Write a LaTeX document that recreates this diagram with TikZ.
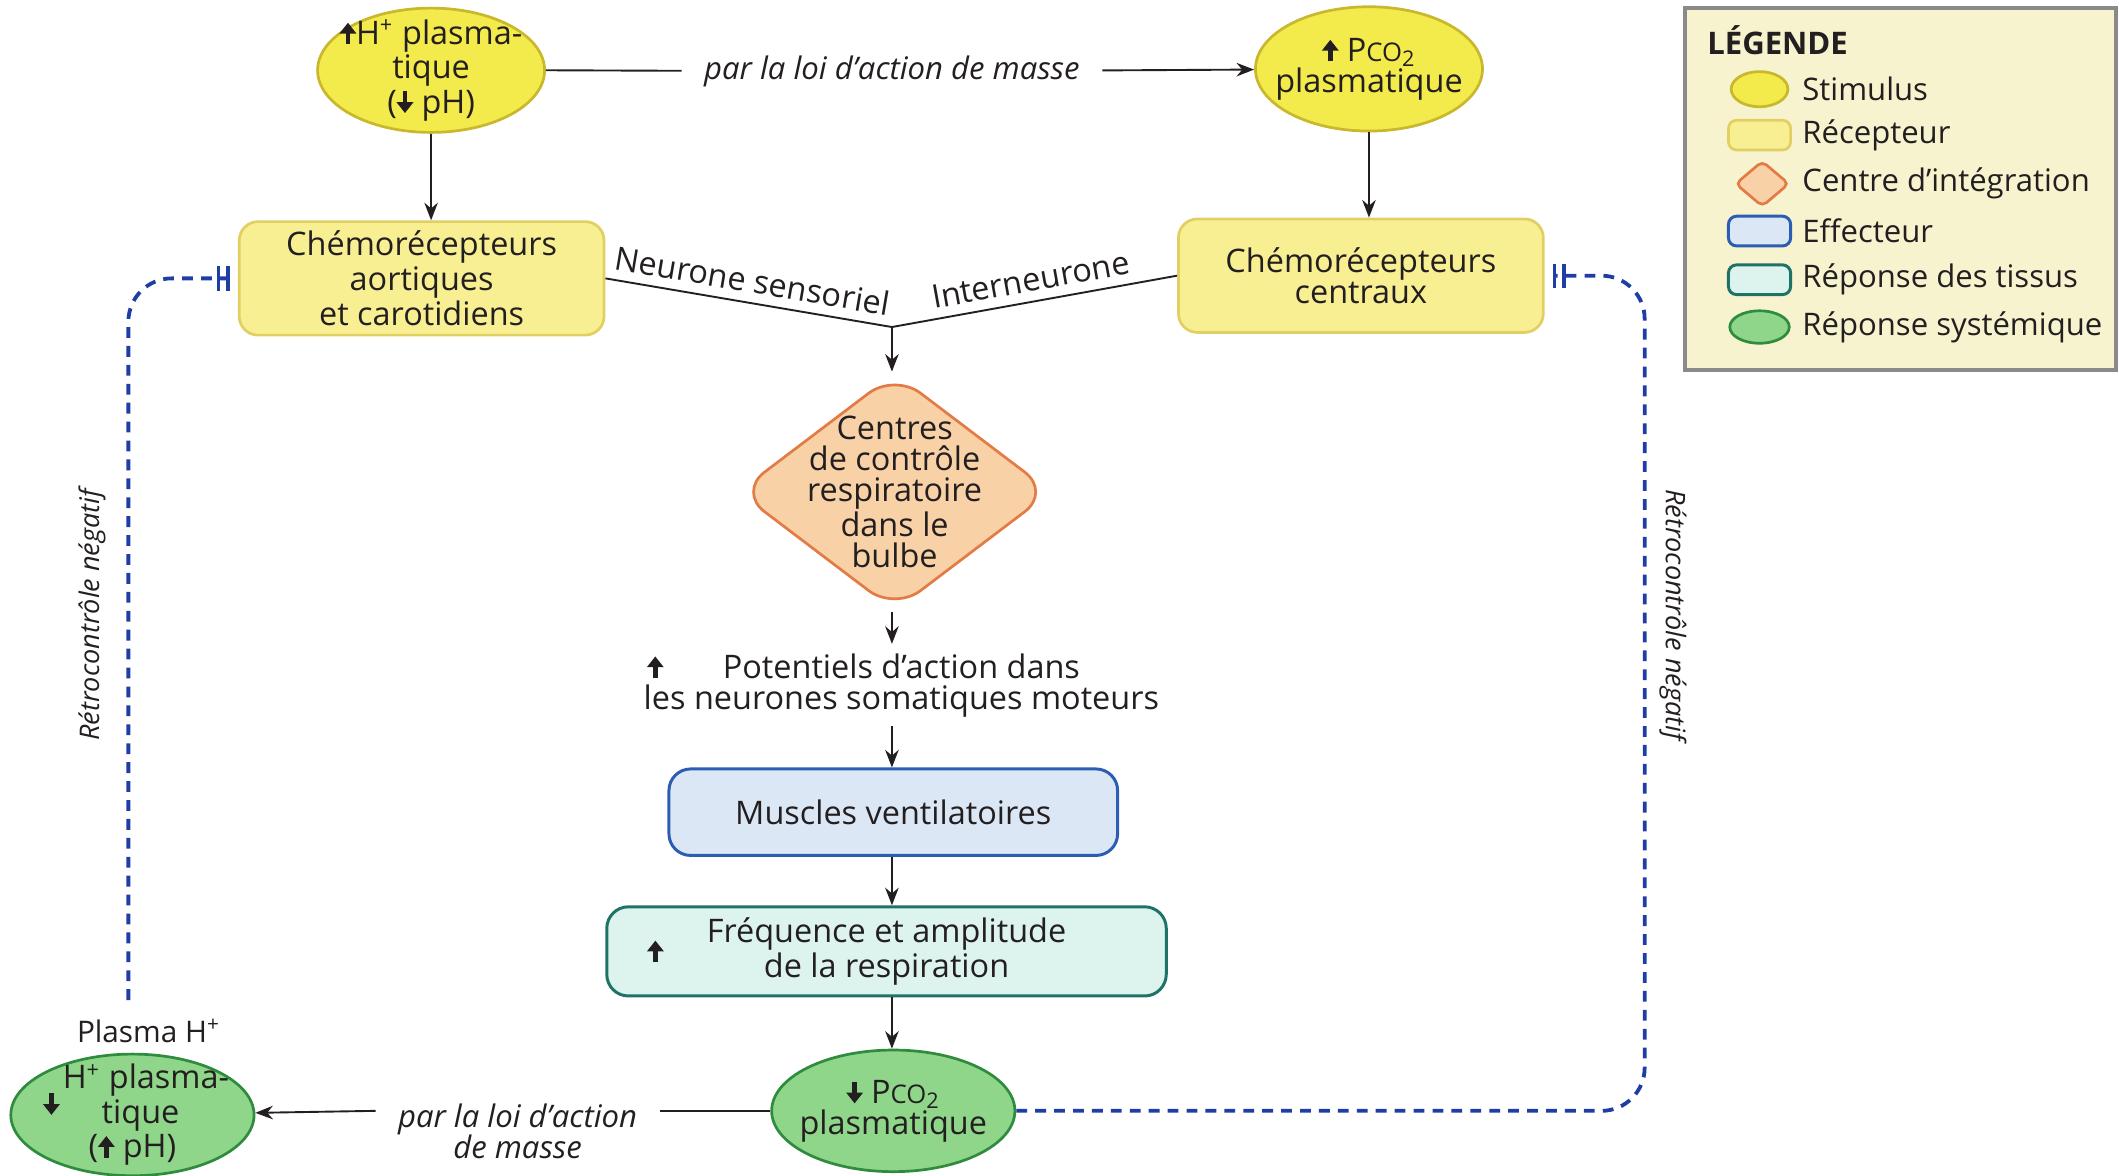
\documentclass[tikz,border=0pt]{standalone}
\usepackage{fontspec}
\setmainfont{Open Sans}
\usetikzlibrary{shapes.geometric,arrows.meta}

\definecolor{ink}{HTML}{231F20}
\definecolor{stimfill}{HTML}{F3EA4B}
\definecolor{stimline}{HTML}{C9B72C}
\definecolor{recfill}{HTML}{F8EF93}
\definecolor{recline}{HTML}{E2CF62}
\definecolor{centfill}{HTML}{F8D2A6}
\definecolor{centline}{HTML}{E27B45}
\definecolor{efffill}{HTML}{DCE7F5}
\definecolor{effline}{HTML}{2B5DB3}
\definecolor{tisfill}{HTML}{DDF3EE}
\definecolor{tisline}{HTML}{1E7366}
\definecolor{sysfill}{HTML}{8FD68B}
\definecolor{sysline}{HTML}{2F8B3E}
\definecolor{fbblue}{HTML}{1E3DA5}
\definecolor{legfill}{HTML}{F7F3CF}
\definecolor{legline}{HTML}{8A8A8A}

\newcommand{\uparr}{\tikz[baseline=0pt]\draw[ink,line width=1.7pt,-{Triangle[length=4pt,width=6pt]}] (0pt,0pt) -- (0pt,8pt);}
\newcommand{\dnarr}{\tikz[baseline=0pt]\draw[ink,line width=1.7pt,-{Triangle[length=4pt,width=6pt]}] (0pt,8pt) -- (0pt,0pt);}
\newcommand{\pco}{P{\fontsize{9.5}{9.5}\selectfont CO}\textsubscript{2}}

\tikzset{
  txt/.style={font=\fontsize{12}{11.5}\selectfont, text=ink, align=center},
  stimulus/.style={txt, ellipse, draw=stimline, fill=stimfill, line width=1pt,
    inner sep=-8pt, minimum width=84pt, minimum height=46pt},
  recepteur/.style={txt, rectangle, rounded corners=7pt, draw=recline, fill=recfill,
    line width=1pt, minimum width=135pt, minimum height=42pt},
  centre/.style={diamond, rounded corners=12pt, draw=centline, fill=centfill,
    line width=1pt, inner sep=0pt, minimum width=116pt, minimum height=88pt},
  effecteur/.style={txt, rectangle, rounded corners=8pt, draw=effline, fill=efffill,
    line width=1.1pt, minimum width=166pt, minimum height=32pt},
  tissus/.style={txt, rectangle, rounded corners=8pt, draw=tisline, fill=tisfill,
    line width=1.1pt, minimum width=207pt, minimum height=33pt},
  systemique/.style={txt, ellipse, draw=sysline, fill=sysfill, line width=1pt,
    inner sep=-8pt, minimum width=90pt, minimum height=45pt},
  loi/.style={font=\itshape\fontsize{11.5}{11.5}\selectfont, text=ink, align=center, inner xsep=8pt},
  retro/.style={font=\itshape\fontsize{10}{10}\selectfont, text=ink},
  feedback/.style={draw=fbblue, line width=1.4pt, dash pattern=on 4pt off 3pt,
    rounded corners=16pt, shorten >=3pt,
    -{Bar[width=9pt,line width=1.3pt,sep=2.2pt] Bar[width=9pt,line width=1.3pt]}},
  legtxt/.style={font=\fontsize{11.5}{11.5}\selectfont, text=ink, anchor=west, inner sep=0pt},
}

\begin{document}
\begin{tikzpicture}[x=0.5pt, y=-0.5pt, line width=0.7pt,
    >={Stealth[length=6.5pt,width=5pt]}]
  \useasboundingbox (0,0) rectangle (1568,870);

  % stimulus and receptors
  \node[stimulus] (hplus) at (319,52) {\uparr H\textsuperscript{+} plasma-\\tique\\(\dnarr\ pH)};
  \node[stimulus] (pcoup) at (1013,51) {\uparr\ \pco\\plasmatique};
  \node[loi] (masseup) at (660,53) {par la loi d'action de masse};
  \node[recepteur] (aort) at (312,206) {Chémorécepteurs\\aortiques\\et carotidiens};
  \node[recepteur] (centr) at (1007,204) {Chémorécepteurs\\centraux};
  \coordinate (jn) at (660,242);

  % integration centre and effector
  \node[centre, label={[txt]center:Centres\\de contrôle\\respiratoire\\dans le\\bulbe}] (bulbe) at (662,364) {};
  \node[txt] (pot) at (667,507) {\llap{\uparr\hspace{22pt}}Potentiels d'action dans\\les neurones somatiques moteurs};
  \node[effecteur] (musc) at (661,601) {Muscles ventilatoires};
  \node[tissus, label={[anchor=west, xshift=12pt]west:\uparr}] (freq) at (656,704) {Fréquence et amplitude\\de la respiration};

  % responses
  \node[systemique] (pcobot) at (661,822) {\dnarr\ \pco\\plasmatique};
  \node[systemique, label={[anchor=west, xshift=9pt, yshift=4pt]west:\dnarr}] (hbot) at (98,825) {\hspace{10pt}H\textsuperscript{+} plasma-\\\hspace{6pt}tique\\(\uparr\ pH)};
  \node[txt, font=\fontsize{11}{11}\selectfont] (plasmah) at (110,763) {Plasma H\textsuperscript{+}};
  \node[loi] (massebot) at (383,837) {par la loi d'action\\de masse};

  \begin{scope}[draw=ink]
    \draw (hplus.east) -- (masseup);
    \draw[->] (masseup) -- (pcoup);
    \draw[->] (hplus) -- (hplus |- aort.north);
    \draw[->] (pcoup) -- (pcoup |- centr.north);
    \draw (aort.east) -- (jn) node[txt, midway, above, sloped] {Neurone sensoriel};
    \draw (jn) -- (centr.west) node[txt, midway, above, sloped] {Interneurone};
    \draw[->] (jn) -- (jn |- bulbe.north);
    \draw[->] (bulbe.south -| jn) -- (jn |- pot.north);
    \draw[->] (jn |- pot.south) -- (jn |- musc.north);
    \draw[->] (jn |- musc.south) -- (jn |- freq.north);
    \draw[->] (jn |- freq.south) -- (jn |- pcobot.north);
    \draw (pcobot.west) -- (pcobot.west -| massebot.east);
    \draw[->] (massebot.west |- pcobot.west) -- (hbot);
  \end{scope}

  % negative feedback
  \coordinate (fbL) at (95,740);
  \coordinate (fbR) at (1217,500);
  \draw[feedback] (fbL) |- (aort.west);
  \draw[feedback] (pcobot.east) -| (fbR) |- (centr.east);
  \node[retro, rotate=90] (retroL) at (68,455) {Rétrocontrôle négatif};
  \node[retro, rotate=-90] (retroR) at (1238,455) {Rétrocontrôle négatif};

  % legend
  \draw[legline, line width=1.6pt, fill=legfill] (1247,6) rectangle (1566,274);
  \node[font=\bfseries\fontsize{11.5}{11.5}\selectfont, text=ink, anchor=west] (legtitre) at (1256,30) {LÉGENDE};
  \node[stimulus, minimum width=21pt, minimum height=13pt] (lstim) at (1302,66) {};
  \node[recepteur, minimum width=23pt, minimum height=11pt, rounded corners=3pt] (lrec) at (1302,100) {};
  \node[centre, minimum width=20pt, minimum height=17pt, rounded corners=2pt] (lcent) at (1304,136) {};
  \node[effecteur, minimum width=23pt, minimum height=11pt, rounded corners=3pt] (leff) at (1302,171) {};
  \node[tissus, minimum width=23pt, minimum height=11pt, rounded corners=3pt] (ltis) at (1302,207) {};
  \node[systemique, minimum width=22pt, minimum height=12pt] (lsys) at (1302,242) {};
  \node[legtxt] (tstim) at (1333,66) {Stimulus};
  \node[legtxt] (trec) at (1333,100) {Récepteur};
  \node[legtxt] (tcent) at (1333,136) {Centre d'intégration};
  \node[legtxt] (teff) at (1333,171) {Effecteur};
  \node[legtxt] (ttis) at (1333,207) {Réponse des tissus};
  \node[legtxt] (tsys) at (1333,242) {Réponse systémique};
\end{tikzpicture}
\end{document}
